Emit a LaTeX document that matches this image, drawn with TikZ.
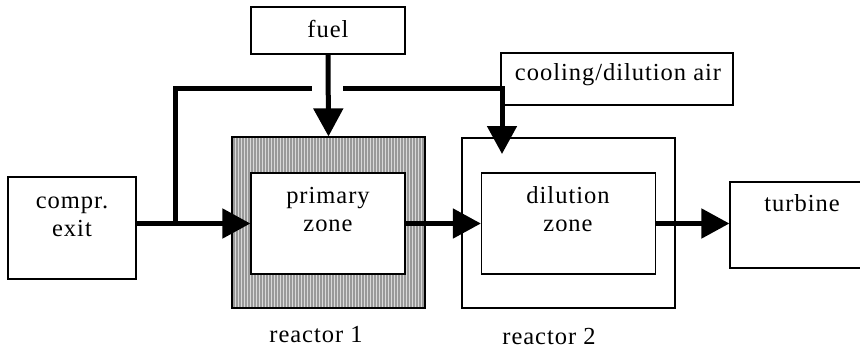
\documentclass[tikz,border=0pt]{standalone}
\usepackage{fontspec}
\setmainfont{Liberation Serif}[LetterSpace=4]
\usetikzlibrary{arrows.meta,patterns.meta}
\begin{document}
\begin{tikzpicture}[x=1pt,y=-1pt,
  box/.style={draw, rectangle, inner sep=0pt, line width=1.2pt, fill=white},
  outerbox/.style={draw, rectangle, inner sep=0pt, line width=2pt},
  lbl/.style={align=center, inner sep=0pt, font=\fontsize{24.5}{28}\selectfont},
  flow/.style={line width=5pt, -{Triangle[length=28pt,width=29pt]}},
  pipe/.style={line width=5pt}
]
\useasboundingbox (0,0) rectangle (860,351);
% boxes
\node[box, minimum width=128pt, minimum height=102pt] (compr) at (72,228) {};
\node[box, minimum width=154pt, minimum height=47pt] (fuel) at (328,30.5) {};
\node[outerbox, minimum width=193pt, minimum height=171pt,
  preaction={fill=gray!30},
  pattern={Lines[angle=90,distance=3pt,line width=1.2pt]}, pattern color=gray!80] (r1) at (328.5,222.5) {};
\node[box, minimum width=154pt, minimum height=101pt] (prim) at (328,223.5) {};
\node[outerbox, minimum width=213pt, minimum height=170pt] (r2) at (568.5,223) {};
\node[box, minimum width=174pt, minimum height=101pt] (dil) at (568.5,223.5) {};
\node[box, minimum width=232pt, minimum height=52pt] (cool) at (617,79) {};
\node[box, minimum width=140pt, minimum height=86pt] (turb) at (800,225) {};
% texts
\node[lbl] (comprt) at (72,217) {compr.\\exit};
\node[lbl] (fuelt) at (328,29) {fuel};
\node[lbl] (primt) at (328,210) {primary\\zone};
\node[lbl] (dilt) at (568,209) {dilution\\zone};
\node[lbl] (coolt) at (618,75) {cooling/dilution air};
\node[lbl] (turbt) at (802,203) {turbine};
\node[lbl] (r1t) at (316,335) {reactor 1};
\node[lbl] (r2t) at (549,337) {reactor 2};
% coordinates
\coordinate (br) at (175,223.5);
\coordinate (gapL) at (312,88);
\coordinate (gapR) at (343,88);
\coordinate (ctip) at (502,154);
% connectors
\draw[flow] (compr.east |- prim.west) -- (prim.west);
\draw[pipe] (br) |- (gapL);
\draw[flow] (gapR) -| (ctip);
\draw[flow] (fuel.south) -- (r1.north);
\draw[flow] (prim.east) -- (dil.west);
\draw[flow] (dil.east) -- (dil.east -| turb.west);
\end{tikzpicture}
\end{document}
